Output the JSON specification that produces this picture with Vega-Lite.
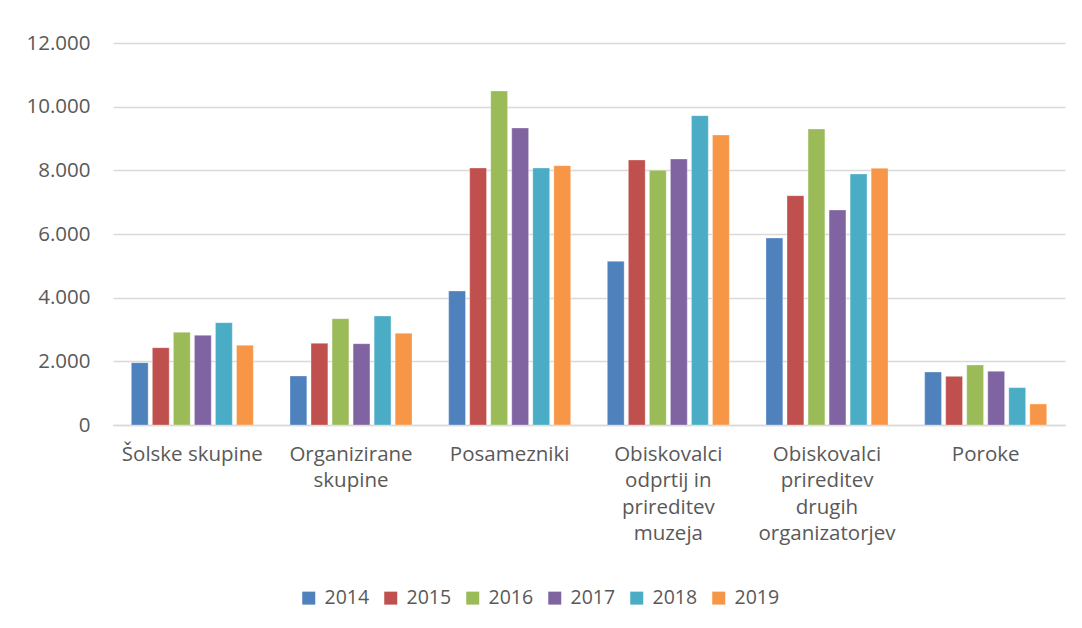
{
  "$schema": "https://vega.github.io/schema/vega-lite/v6.json",
  "width": 952,
  "height": 382,
  "autosize": {"type": "none"},
  "padding": {"left": 113, "top": 43, "right": 17, "bottom": 203},
  "background": "#ffffff",
  "config": {
    "view": {"stroke": null},
    "font": "Open Sans",
    "axis": {"labelColor": "#595959", "labelFont": "Open Sans", "labelFontSize": 20.5},
    "legend": {"labelColor": "#595959", "labelFont": "Open Sans", "labelFontSize": 19.5}
  },
  "data": {
    "values": [
      {"kategorija": "Šolske skupine", "leto": "2014", "obiskovalci": 1958},
      {"kategorija": "Šolske skupine", "leto": "2015", "obiskovalci": 2429},
      {"kategorija": "Šolske skupine", "leto": "2016", "obiskovalci": 2911},
      {"kategorija": "Šolske skupine", "leto": "2017", "obiskovalci": 2817},
      {"kategorija": "Šolske skupine", "leto": "2018", "obiskovalci": 3215},
      {"kategorija": "Šolske skupine", "leto": "2019", "obiskovalci": 2503},
      {"kategorija": "Organizirane skupine", "leto": "2014", "obiskovalci": 1539},
      {"kategorija": "Organizirane skupine", "leto": "2015", "obiskovalci": 2565},
      {"kategorija": "Organizirane skupine", "leto": "2016", "obiskovalci": 3340},
      {"kategorija": "Organizirane skupine", "leto": "2017", "obiskovalci": 2555},
      {"kategorija": "Organizirane skupine", "leto": "2018", "obiskovalci": 3424},
      {"kategorija": "Organizirane skupine", "leto": "2019", "obiskovalci": 2880},
      {"kategorija": "Posamezniki", "leto": "2014", "obiskovalci": 4209},
      {"kategorija": "Posamezniki", "leto": "2015", "obiskovalci": 8073},
      {"kategorija": "Posamezniki", "leto": "2016", "obiskovalci": 10492},
      {"kategorija": "Posamezniki", "leto": "2017", "obiskovalci": 9330},
      {"kategorija": "Posamezniki", "leto": "2018", "obiskovalci": 8073},
      {"kategorija": "Posamezniki", "leto": "2019", "obiskovalci": 8147},
      {"kategorija": "Obiskovalci odprtij in prireditev muzeja", "leto": "2014", "obiskovalci": 5141},
      {"kategorija": "Obiskovalci odprtij in prireditev muzeja", "leto": "2015", "obiskovalci": 8325},
      {"kategorija": "Obiskovalci odprtij in prireditev muzeja", "leto": "2016", "obiskovalci": 8000},
      {"kategorija": "Obiskovalci odprtij in prireditev muzeja", "leto": "2017", "obiskovalci": 8356},
      {"kategorija": "Obiskovalci odprtij in prireditev muzeja", "leto": "2018", "obiskovalci": 9717},
      {"kategorija": "Obiskovalci odprtij in prireditev muzeja", "leto": "2019", "obiskovalci": 9110},
      {"kategorija": "Obiskovalci prireditev drugih organizatorjev", "leto": "2014", "obiskovalci": 5874},
      {"kategorija": "Obiskovalci prireditev drugih organizatorjev", "leto": "2015", "obiskovalci": 7204},
      {"kategorija": "Obiskovalci prireditev drugih organizatorjev", "leto": "2016", "obiskovalci": 9298},
      {"kategorija": "Obiskovalci prireditev drugih organizatorjev", "leto": "2017", "obiskovalci": 6754},
      {"kategorija": "Obiskovalci prireditev drugih organizatorjev", "leto": "2018", "obiskovalci": 7885},
      {"kategorija": "Obiskovalci prireditev drugih organizatorjev", "leto": "2019", "obiskovalci": 8063},
      {"kategorija": "Poroke", "leto": "2014", "obiskovalci": 1665},
      {"kategorija": "Poroke", "leto": "2015", "obiskovalci": 1529},
      {"kategorija": "Poroke", "leto": "2016", "obiskovalci": 1885},
      {"kategorija": "Poroke", "leto": "2017", "obiskovalci": 1686},
      {"kategorija": "Poroke", "leto": "2018", "obiskovalci": 1173},
      {"kategorija": "Poroke", "leto": "2019", "obiskovalci": 660}
    ]
  },
  "mark": {"type": "bar", "stroke": "#ffffff", "strokeOpacity": 0.5, "strokeWidth": 0.6},
  "encoding": {
    "x": {
      "field": "kategorija",
      "type": "nominal",
      "sort": null,
      "scale": {"paddingInner": 0.231, "paddingOuter": 0.1155},
      "axis": {
        "title": null,
        "ticks": false,
        "domain": true,
        "domainColor": "#d9d9d9",
        "domainWidth": 1.3,
        "labelAngle": 0,
        "labelPadding": 19,
        "labelLineHeight": 26.5,
        "labelBaseline": "top",
        "labelExpr": "datum.value == 'Organizirane skupine' ? ['Organizirane', 'skupine'] : datum.value == 'Obiskovalci odprtij in prireditev muzeja' ? ['Obiskovalci', 'odprtij in', 'prireditev', 'muzeja'] : datum.value == 'Obiskovalci prireditev drugih organizatorjev' ? ['Obiskovalci', 'prireditev', 'drugih', 'organizatorjev'] : datum.value"
      }
    },
    "xOffset": {
      "field": "leto",
      "type": "nominal",
      "sort": null,
      "scale": {"paddingInner": 0.2, "paddingOuter": 0}
    },
    "y": {
      "field": "obiskovalci",
      "type": "quantitative",
      "scale": {"domain": [0, 12000], "nice": false},
      "axis": {
        "title": null,
        "values": [0, 2000, 4000, 6000, 8000, 10000, 12000],
        "domain": false,
        "ticks": false,
        "grid": true,
        "gridColor": "#d9d9d9",
        "gridWidth": 1.3,
        "labelPadding": 23,
        "labelExpr": "replace(format(datum.value, ','), ',', '.')"
      }
    },
    "color": {
      "field": "leto",
      "type": "nominal",
      "scale": {
        "domain": ["2014", "2015", "2016", "2017", "2018", "2019"],
        "range": ["#4F81BD", "#C0504D", "#9BBB59", "#8064A2", "#4BACC6", "#F79646"]
      },
      "legend": {
        "title": null,
        "orient": "none",
        "direction": "horizontal",
        "legendX": 186,
        "legendY": 545,
        "padding": 0,
        "symbolType": "square",
        "symbolSize": 169,
        "symbolStrokeWidth": 0,
        "symbolOpacity": 1,
        "labelOffset": 6,
        "columnPadding": 11
      }
    }
  }
}
